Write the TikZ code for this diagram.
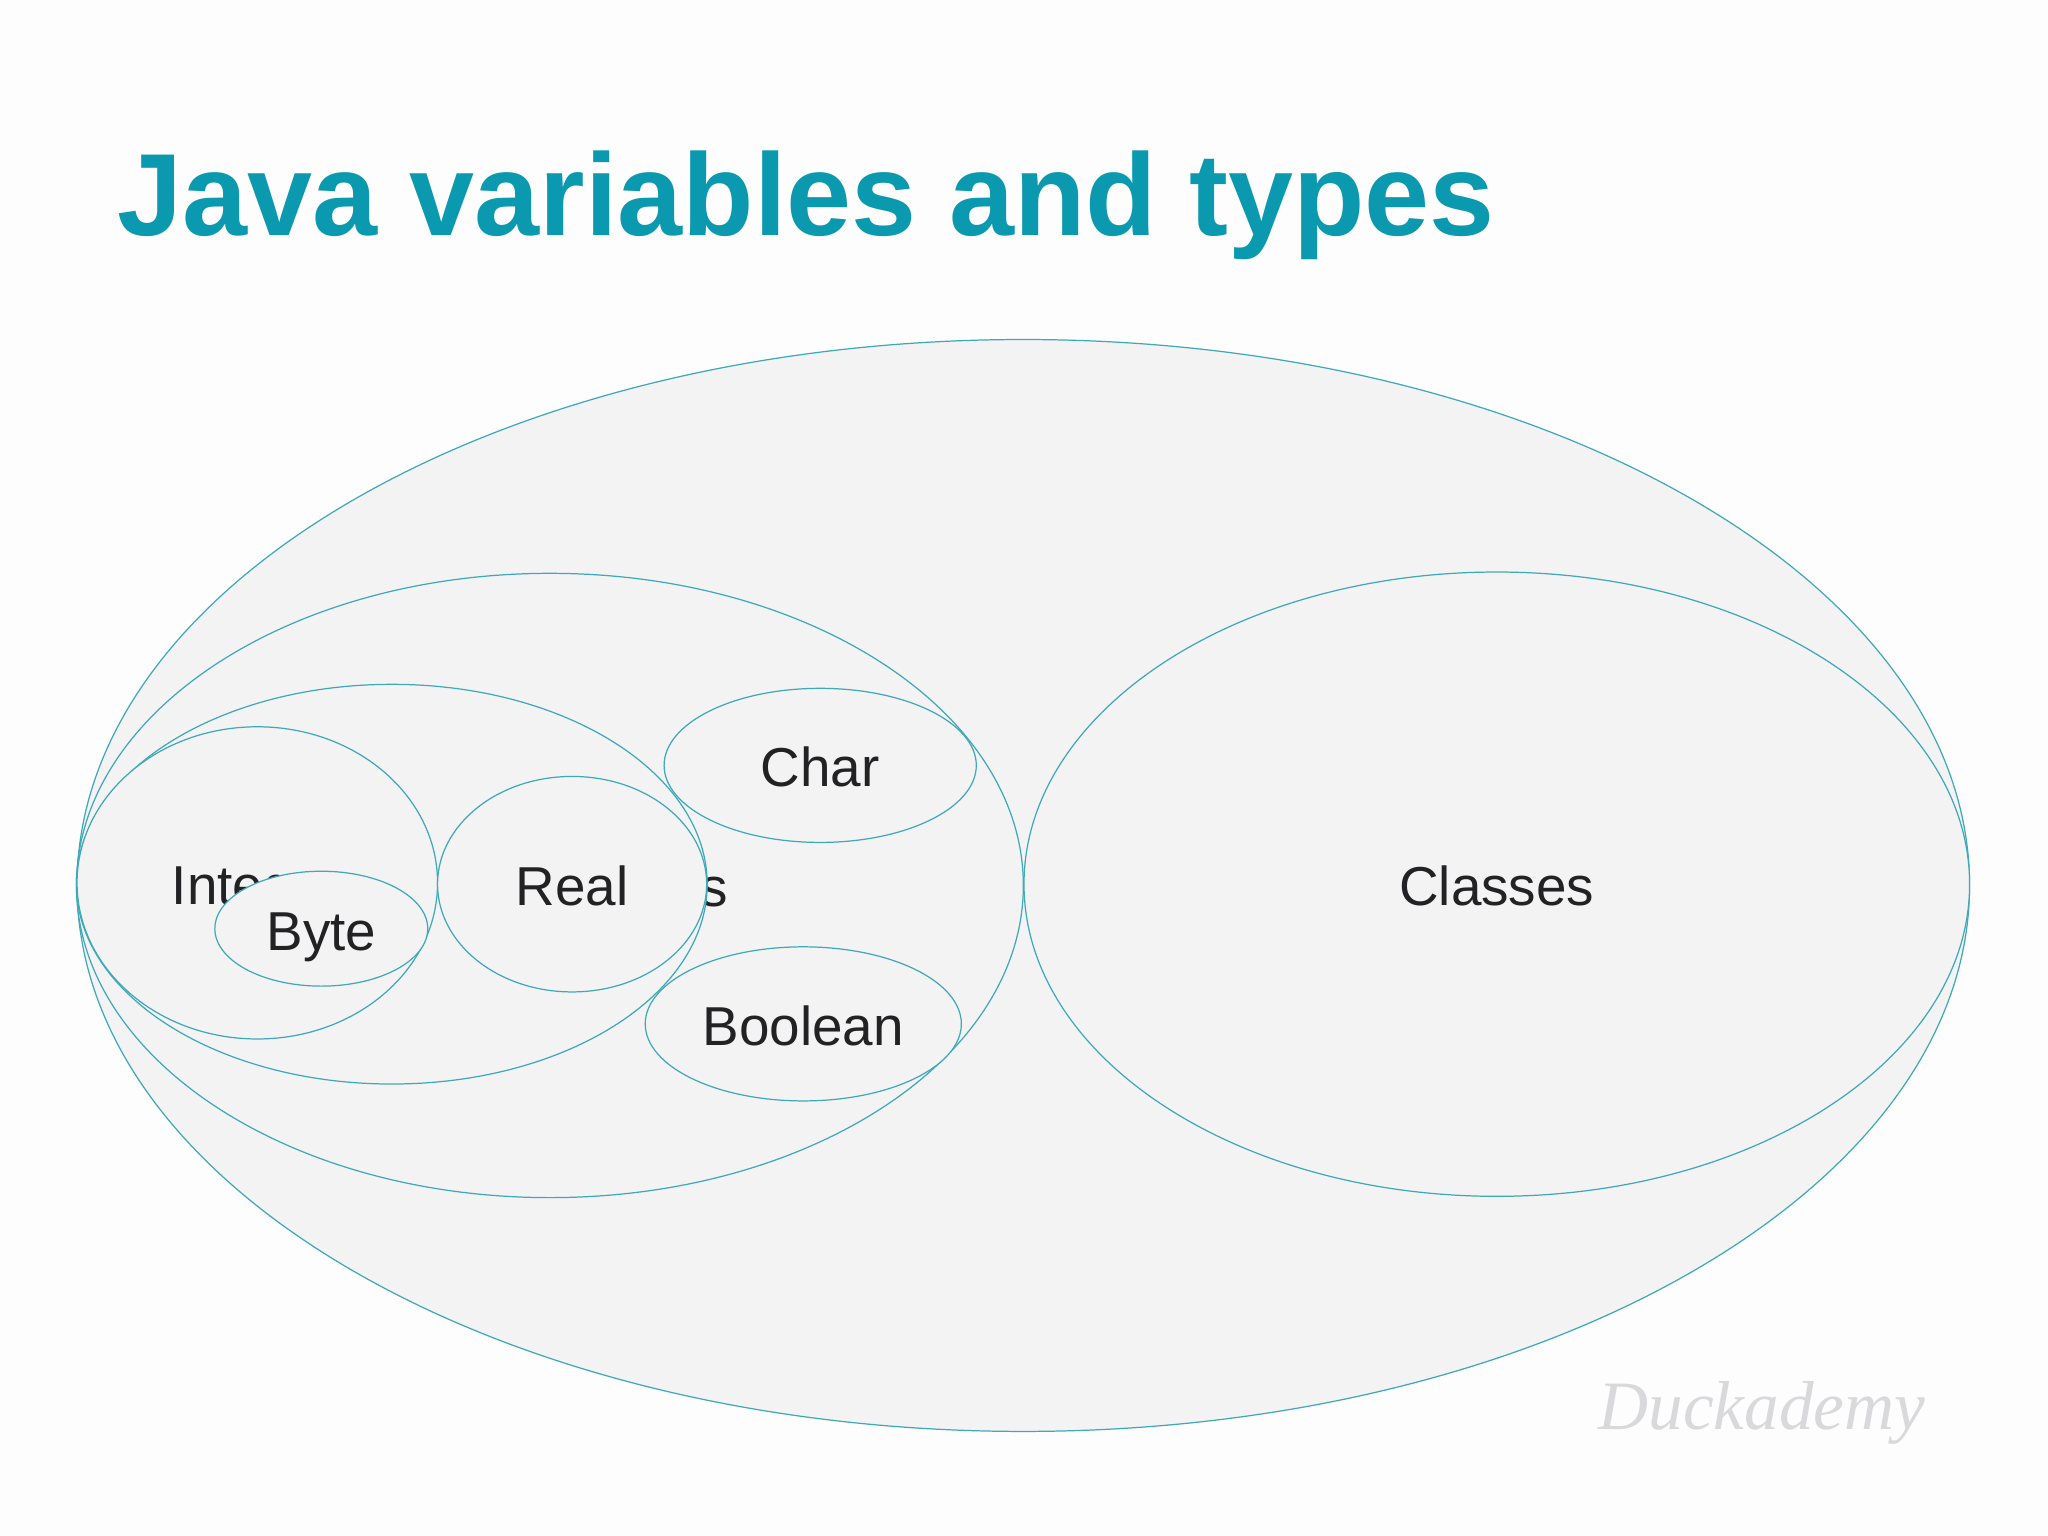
\documentclass[tikz,border=0pt]{standalone}
\usepackage{fontspec}
\setmainfont{Liberation Sans}
\newfontfamily\logofont{Liberation Serif}
\usepackage{tikz}
\usetikzlibrary{shapes.geometric}
\definecolor{titleteal}{HTML}{0A99AE}
\definecolor{lineteal}{HTML}{3FA9B8}
\definecolor{setgray}{HTML}{F3F3F4}
\definecolor{pagewhite}{HTML}{FDFDFE}
\definecolor{labelblack}{HTML}{222224}
\definecolor{logogray}{HTML}{D9D9DC}
\tikzset{
	setnode/.style={ellipse, draw=lineteal, line width=0.35pt, fill=setgray, inner sep=0pt,
		text=labelblack, text height=0.43cm, text depth=0pt,
		font=\fontsize{15.6}{18}\selectfont},
}

\begin{document}
\begin{tikzpicture}

	\useasboundingbox (0,0) rectangle (20.48,15.36);
	\fill[pagewhite] (0,0) rectangle (20.48,15.36);

	\node (Title)[anchor=base west, text=titleteal, inner sep=0pt, font=\bfseries\fontsize{33.25}{40}\selectfont] at (1.17,13.00) {Java variables and types};

	\node (Types)[setnode, minimum width=18.925cm, minimum height=10.919cm] at (10.233,6.505) {};
	\node (Classes)[setnode, minimum width=9.456cm, minimum height=6.243cm] at (14.968,6.518) {Classes};
	\node (Prim)[setnode, minimum width=9.469cm, minimum height=6.243cm] at (5.499,6.505) {Primitive types};

	\node (Num)[setnode, minimum width=6.308cm, minimum height=3.997cm] at (3.918,6.518) {};
	\node (Int)[setnode, minimum width=3.605cm, minimum height=3.122cm] at (2.573,6.531) {Integer};
	\node (Byte)[setnode, minimum width=2.129cm, minimum height=1.149cm] at (3.213,6.073) {Byte};
	\node (Real)[setnode, minimum width=2.691cm, minimum height=2.155cm] at (5.721,6.518) {Real};

	\node (Char)[setnode, minimum width=3.122cm, minimum height=1.541cm] at (8.202,7.706) {Char};
	\node (Bool)[setnode, minimum width=3.161cm, minimum height=1.541cm] at (8.033,5.121) {Boolean};

	\node (Logo)[text=logogray, font=\logofont\itshape\fontsize{19.7}{22}\selectfont] at (17.62,1.23) {Duckademy};

\end{tikzpicture}
\end{document}
